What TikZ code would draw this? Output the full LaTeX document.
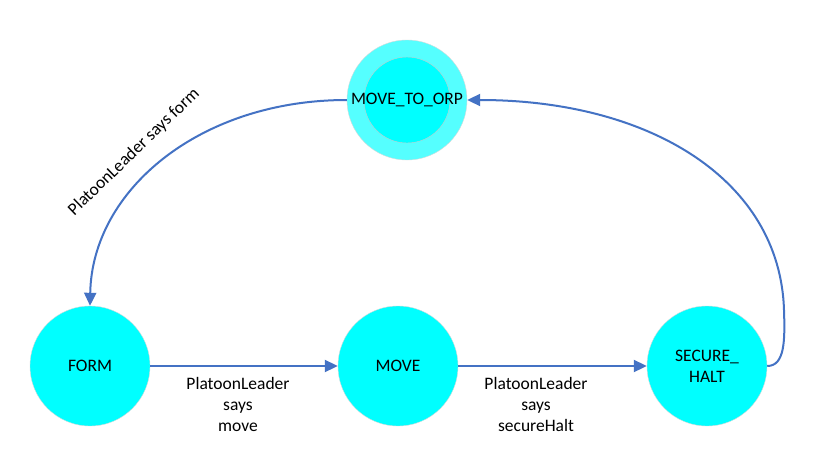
\documentclass[tikz,border=0pt]{standalone}
\usepackage{fontspec}
\setmainfont{Carlito}
\usetikzlibrary{arrows.meta}
\definecolor{cyanfill}{HTML}{00FFFF}
\definecolor{cyanouter}{HTML}{55FFFF}
\definecolor{edgeblue}{HTML}{4472C4}
\begin{document}
\begin{tikzpicture}[x=1pt,y=-1pt,
  state/.style={circle,fill=cyanfill,draw=black!15,line width=0.4pt,minimum size=120pt,inner sep=0pt,font=\fontsize{17.5}{21}\selectfont,align=center},
  outerstate/.style={circle,fill=cyanouter,draw=black!15,line width=0.4pt,minimum size=120pt,inner sep=0pt},
  innerstate/.style={circle,fill=cyanfill,draw=black!20,line width=0.4pt,minimum size=86pt,inner sep=0pt},
  trans/.style={draw=edgeblue,line width=2pt,-{Triangle[length=13pt,width=12pt]}},
  lbl/.style={font=\fontsize{17.5}{21}\selectfont,align=center}]
\useasboundingbox (0,0) rectangle (825,463);
\fill[white] (0,0) rectangle (825,463);
\node[outerstate] (mto) at (407,100) {};
\node[innerstate] (mtoin) at (407,100) {};
\node[font=\fontsize{17.5}{21}\selectfont] (mtolabel) at (407,100) {MOVE\_TO\_ORP};
\node[state] (form) at (90,366) {FORM};
\node[state] (move) at (398,366) {MOVE};
\node[state] (sh) at (707,366) {SECURE\_\\HALT};
\draw[trans] (form.east) -- (move.west);
\draw[trans] (move.east) -- (sh.west);
\draw[trans] (mto.west) .. controls (200,100) and (92,190) .. (form.north);
\draw[trans] (sh.east) .. controls (785,366) and (785,340) .. (784,310) .. controls (780,180) and (650,100) .. (mto.east);
\node[lbl] (l1) at (238,404) {PlatoonLeader\\says\\move};
\node[lbl] (l2) at (536,404) {PlatoonLeader\\says\\secureHalt};
\node[lbl,rotate=44] (l3) at (134,152) {PlatoonLeader says form};
\end{tikzpicture}
\end{document}
